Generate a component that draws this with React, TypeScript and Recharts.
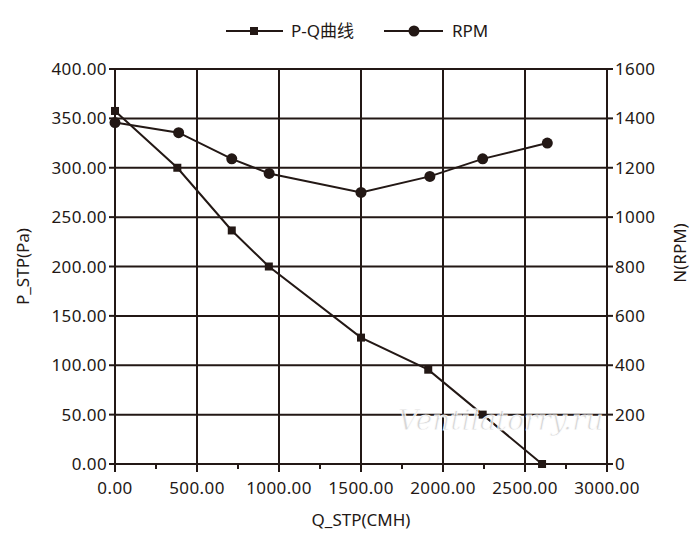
import React from 'react';
import { LineChart, Line, XAxis, YAxis, CartesianGrid, ReferenceLine } from 'recharts';

const INK = '#231815';
const FONT = '"Noto Sans", "Noto Sans CJK SC", sans-serif';

// P-Q curve (Pa vs CMH)
const pqFlow = [0, 380, 712, 938, 1500, 1910, 2242, 2604];
const pqPressure = [357.5, 300, 236.5, 200, 128, 95.5, 50, 0];

// RPM curve
const rpmFlow = [0, 388, 712, 940, 1500, 1920, 2242, 2636];
const rpmSpeed = [1383, 1342, 1236, 1177, 1100, 1165, 1236, 1300];

const xTicks = [0, 250, 500, 750, 1000, 1250, 1500, 1750, 2000, 2250, 2500, 2750, 3000];
const xGrid = [500, 1000, 1500, 2000, 2500];
const leftTicks = [0, 50, 100, 150, 200, 250, 300, 350, 400];
const rightTicks = [0, 200, 400, 600, 800, 1000, 1200, 1400, 1600];

const pqData = pqFlow.map((q, i) => ({ q, p: pqPressure[i] }));
const rpmData = rpmFlow.map((q, i) => ({ q, n: rpmSpeed[i] }));

const SquareDot = (props: any) => {
  const { cx, cy, index } = props;
  return <rect key={`sq-${index}`} x={cx - 4} y={cy - 4} width={8} height={8} fill={INK} />;
};

const CircleDot = (props: any) => {
  const { cx, cy, index } = props;
  return <circle key={`ci-${index}`} cx={cx} cy={cy} r={5.5} fill={INK} />;
};

const XTick = (props: any) => {
  const { x, y, payload } = props;
  const major = payload.value % 500 === 0;
  return (
    <g>
      <line x1={x} x2={x} y1={y - 8} y2={y - 8 + (major ? 8 : 5)} stroke={INK} strokeWidth={2} />
      {major && (
        <text x={x} y={y + 22} textAnchor="middle" fill={INK} fontSize={17} fontFamily={FONT} letterSpacing={0.4}>
          {payload.value.toFixed(2)}
        </text>
      )}
    </g>
  );
};

const LegendBox = () => (
  <svg width={700} height={56} style={{ position: 'absolute', left: 0, top: 0 }}>
    <g stroke={INK} strokeWidth={2}>
      <line x1={226} x2={283} y1={31} y2={31} />
      <line x1={384} x2={443} y1={31} y2={31} />
    </g>
    <rect x={250} y={27} width={8} height={8} fill={INK} />
    <circle cx={414} cy={31} r={5.5} fill={INK} />
    <text x={291} y={37} fill={INK} fontSize={17} fontFamily={FONT}>P-Q曲线</text>
    <text x={452} y={37} fill={INK} fontSize={17} fontFamily={FONT}>RPM</text>
  </svg>
);

const tickStyle = { fill: INK, fontSize: 17, fontFamily: FONT, letterSpacing: 0.4 };

const App: React.FC = () => {
  return (
    <div style={{ position: 'absolute', left: 0, top: 0, width: 700, height: 546, background: '#fff' }}>
      <LineChart width={700} height={546} margin={{ top: 69, right: 33, bottom: 52, left: 35 }}>
        <CartesianGrid vertical={false} stroke={INK} strokeWidth={2} yAxisId="left" />
        {xGrid.map((v) => (
          <ReferenceLine key={v} x={v} yAxisId="left" stroke={INK} strokeWidth={2} />
        ))}
        <XAxis
          type="number"
          dataKey="q"
          domain={[0, 3000]}
          ticks={xTicks}
          interval={0}
          tick={<XTick />}
          tickLine={false}
          axisLine={{ stroke: INK, strokeWidth: 2 }}
          height={30}
          label={{ value: 'Q_STP(CMH)', position: 'insideBottom', offset: -32, fill: INK, fontSize: 17, fontFamily: FONT }}
        />
        <YAxis
          yAxisId="left"
          domain={[0, 400]}
          ticks={leftTicks}
          interval={0}
          width={80}
          tickFormatter={(v: number) => v.toFixed(2)}
          tick={tickStyle}
          tickLine={{ stroke: INK, strokeWidth: 2 }}
          tickSize={6}
          axisLine={{ stroke: INK, strokeWidth: 2 }}
          label={{ value: 'P_STP(Pa)', angle: -90, position: 'insideLeft', offset: -12, fill: INK, fontSize: 17, fontFamily: FONT, style: { textAnchor: 'middle' } }}
        />
        <YAxis
          yAxisId="right"
          orientation="right"
          domain={[0, 1600]}
          ticks={rightTicks}
          interval={0}
          width={60}
          tick={tickStyle}
          tickLine={{ stroke: INK, strokeWidth: 2 }}
          tickSize={6}
          axisLine={{ stroke: INK, strokeWidth: 2 }}
        />
        <Line
          yAxisId="left"
          data={pqData}
          dataKey="p"
          name="P-Q曲线"
          stroke={INK}
          strokeWidth={2}
          dot={<SquareDot />}
          isAnimationActive={false}
        />
        <Line
          yAxisId="right"
          data={rpmData}
          dataKey="n"
          name="RPM"
          stroke={INK}
          strokeWidth={2}
          dot={<CircleDot />}
          isAnimationActive={false}
        />
      </LineChart>
      <LegendBox />
      <svg width={40} height={120} style={{ position: 'absolute', left: 660, top: 193 }}>
        <text
          x={26}
          y={60}
          transform="rotate(-90 26 60)"
          textAnchor="middle"
          fill={INK}
          fontSize={17}
          fontFamily={FONT}
        >
          N(RPM)
        </text>
      </svg>
      <div
        style={{
          position: 'absolute',
          left: 398,
          top: 404,
          fontFamily: '"DejaVu Serif", serif',
          fontStyle: 'italic',
          fontSize: 28,
          color: 'rgba(205,205,205,0.8)',
          WebkitTextStroke: '1px rgba(255,255,255,0.9)',
          pointerEvents: 'none',
        }}
      >
        Ventilatorry.ru
      </div>
    </div>
  );
};

export default App;
